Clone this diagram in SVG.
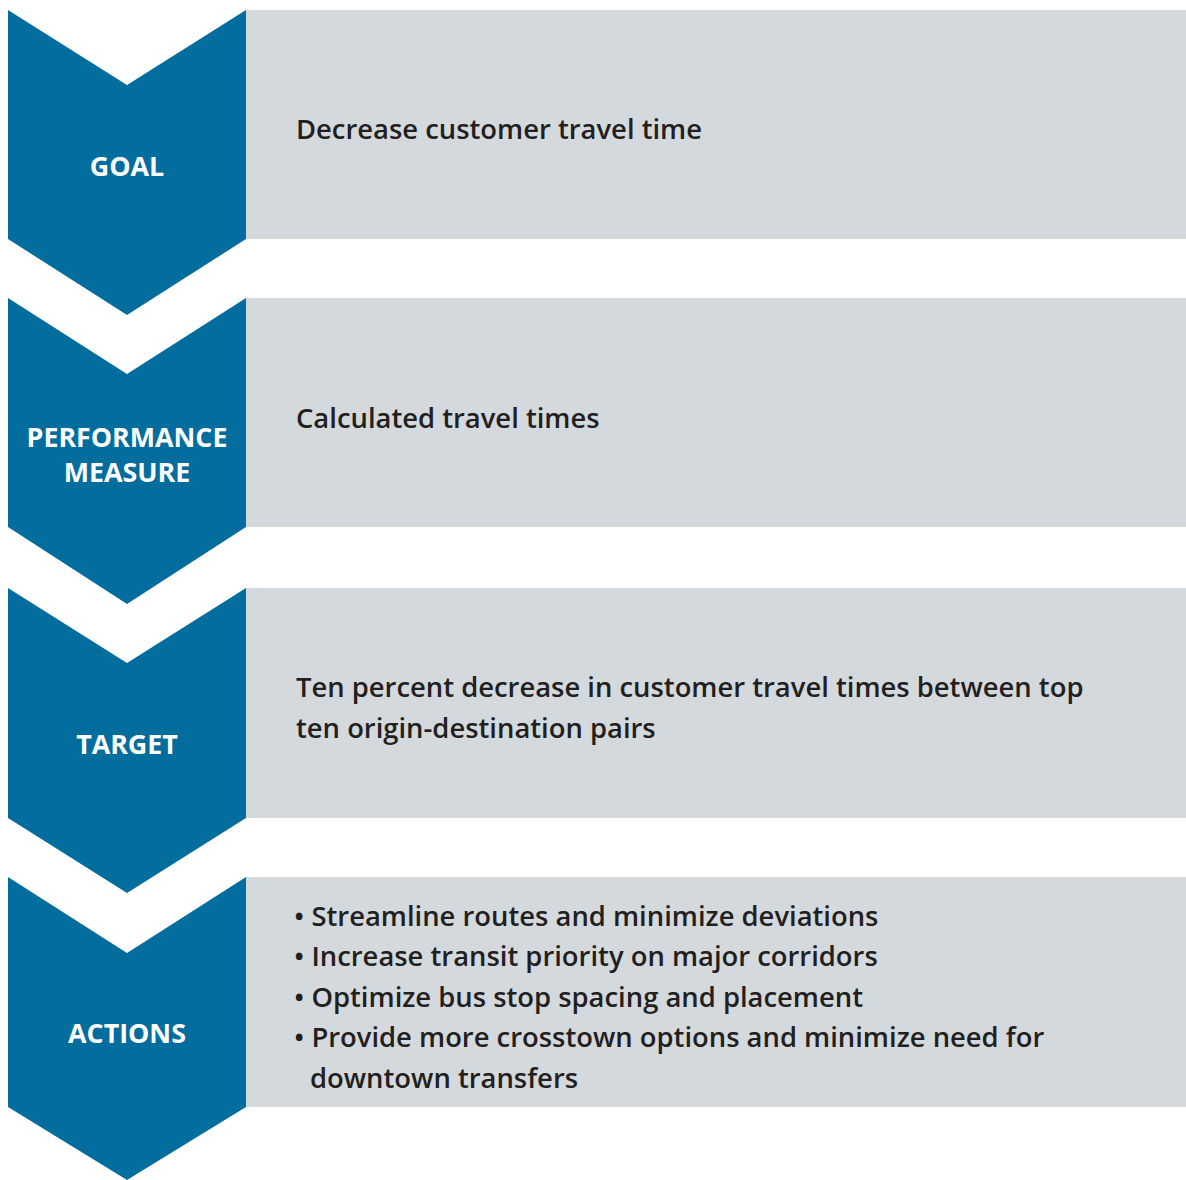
<svg xmlns="http://www.w3.org/2000/svg" width="1186" height="1180" viewBox="0 0 1186 1180">
<style>
.chev{fill:#036d9e}
.panel{fill:#d4d9dd}
.lbl{font-family:"Open Sans","Liberation Sans",sans-serif;font-weight:700;font-size:26.8px;fill:#ffffff;text-anchor:middle}
.txt{font-family:"Open Sans","Liberation Sans",sans-serif;font-weight:600;font-size:27.4px;fill:#231f20}
</style>
<rect width="1186" height="1180" fill="#ffffff"/>
<g id="goal">
<rect class="panel" x="246" y="10" width="940" height="229"/>
<polygon class="chev" points="8,10 127,85 246,10 246,239 127,315 8,239"/>
<text class="lbl" x="127" y="176">GOAL</text>
<text class="txt" x="296" y="139">Decrease customer travel time</text>
</g>
<g id="measure">
<rect class="panel" x="246" y="298" width="940" height="229"/>
<polygon class="chev" points="8,298 127,374 246,298 246,527 127,604 8,527"/>
<text class="lbl" x="127" y="447">PERFORMANCE</text>
<text class="lbl" x="127" y="482">MEASURE</text>
<text class="txt" x="296" y="428">Calculated travel times</text>
</g>
<g id="target">
<rect class="panel" x="246" y="588" width="940" height="230"/>
<polygon class="chev" points="8,588 127,663 246,588 246,818 127,893 8,818"/>
<text class="lbl" x="127" y="754">TARGET</text>
<text class="txt" x="296" y="697">Ten percent decrease in customer travel times between top</text>
<text class="txt" x="296" y="738">ten origin-destination pairs</text>
</g>
<g id="actions">
<rect class="panel" x="246" y="877" width="940" height="230"/>
<polygon class="chev" points="8,877 127,953 246,877 246,1107 127,1180 8,1107"/>
<text class="lbl" x="127" y="1043">ACTIONS</text>
<text class="txt" x="294" y="926">• Streamline routes and minimize deviations</text>
<text class="txt" x="294" y="966">• Increase transit priority on major corridors</text>
<text class="txt" x="294" y="1007">• Optimize bus stop spacing and placement</text>
<text class="txt" x="294" y="1047">• Provide more crosstown options and minimize need for</text>
<text class="txt" x="310" y="1088">downtown transfers</text>
</g>
<g id="connectors"></g>
</svg>
